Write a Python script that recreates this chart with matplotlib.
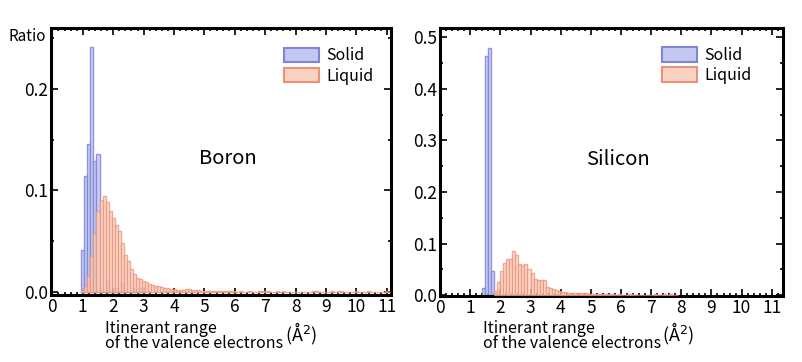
import numpy as np
import matplotlib
matplotlib.use('Agg')
import matplotlib.pyplot as plt
import matplotlib.ticker as ticker
from matplotlib.patches import Patch

plt.rcParams['font.family'] = ['Noto Sans CJK JP', 'DejaVu Sans']

# bin width 0.1, lists start at the given bin centre
boron_solid_start = 1.0
boron_solid = [0.041, 0.114, 0.146, 0.241, 0.129, 0.136, 0.0, 0.0, 0.012, 0.0,
               0.0, 0.004, 0.0, 0.009, 0.0, 0.0, 0.0, 0.004, 0.0, 0.004, 0.004]

boron_liquid_start = 1.0
boron_liquid = [0.002, 0.006, 0.015, 0.035, 0.058, 0.080, 0.090, 0.094, 0.089, 0.080,
                0.073, 0.066, 0.060, 0.048, 0.036, 0.030, 0.022, 0.017, 0.014, 0.013,
                0.011, 0.010, 0.008, 0.007, 0.006, 0.006, 0.005, 0.004, 0.004, 0.003,
                0.003, 0.002, 0.002, 0.002, 0.003, 0.003, 0.002, 0.002, 0.002, 0.001,
                0.001, 0.001, 0.001, 0.001, 0.001, 0.001, 0.001, 0.001, 0.001, 0.001,
                0.001, 0.0, 0.001, 0.0, 0.0, 0.001, 0.0, 0.0, 0.001, 0.001,
                0.001, 0.001, 0.0, 0.0, 0.001, 0.0, 0.001, 0.0, 0.0, 0.0,
                0.0, 0.0, 0.0, 0.0, 0.0, 0.0, 0.001, 0.001, 0.0, 0.0,
                0.0, 0.0, 0.001, 0.0, 0.001, 0.001, 0.0, 0.0, 0.0, 0.0,
                0.001, 0.0, 0.0, 0.0, 0.001, 0.0, 0.0, 0.0, 0.0, 0.0,
                0.001, 0.0]

silicon_solid_start = 1.45
silicon_solid = [0.014, 0.464, 0.480, 0.047, 0.004]

silicon_liquid_start = 1.85
silicon_liquid = [0.008, 0.026, 0.046, 0.062, 0.070, 0.070, 0.085, 0.078, 0.060, 0.058,
                  0.060, 0.050, 0.042, 0.032, 0.030, 0.030, 0.029, 0.016, 0.013, 0.011,
                  0.009, 0.007, 0.006, 0.006, 0.005, 0.005, 0.005, 0.005, 0.005, 0.004,
                  0.004, 0.003, 0.003, 0.003, 0.003, 0.002, 0.002, 0.002, 0.002, 0.002,
                  0.001, 0.002, 0.001, 0.001, 0.002, 0.002, 0.001, 0.001, 0.001, 0.001,
                  0.001, 0.001, 0.001, 0.002, 0.001, 0.001, 0.002, 0.001, 0.002, 0.001,
                  0.001]

panels = ['Boron', 'Silicon']
y_ticks = [[0.0, 0.1, 0.2], [0.0, 0.1, 0.2, 0.3, 0.4, 0.5]]
x_ticks = list(range(12))

solid_edge = '#7f86d8'
solid_face = '#c4c8f0'
liq_edge = '#ec9278'
liq_face = '#fad2c2'

fig = plt.figure(figsize=(8.03, 3.62), dpi=100)
ax1 = fig.add_axes([0.063, 0.185, 0.424, 0.737])
ax2 = fig.add_axes([0.548, 0.182, 0.427, 0.742])

data = [(boron_solid_start, boron_solid, boron_liquid_start, boron_liquid),
        (silicon_solid_start, silicon_solid, silicon_liquid_start, silicon_liquid)]


def centres(start, vals):
    return np.round(start + 0.1 * np.arange(len(vals)), 3)


for ax, name, d, yt in zip([ax1, ax2], panels, data, y_ticks):
    s0, s, l0, l = d
    ax.bar(centres(s0, s), s, width=0.1, facecolor=solid_face, edgecolor=solid_edge,
           linewidth=1.0, alpha=0.85, zorder=2)
    ax.bar(centres(l0, l), l, width=0.1, facecolor=liq_face, edgecolor=liq_edge,
           linewidth=1.0, alpha=0.75, zorder=3)
    ax.set_xticks(x_ticks)
    ax.set_yticks(yt)
    ax.xaxis.set_minor_locator(ticker.MultipleLocator(0.2))
    ax.yaxis.set_minor_locator(ticker.MultipleLocator(0.05))
    ax.yaxis.set_major_formatter(ticker.FormatStrFormatter('%.1f'))
    ax.tick_params(which='both', direction='in', top=True, right=True, labelsize=12.5,
                   width=1.2, pad=2)
    ax.tick_params(which='major', length=5)
    ax.tick_params(which='minor', length=2.5)
    for sp in ax.spines.values():
        sp.set_linewidth(2.2)
    ax.text(0.52, 0.51, name, transform=ax.transAxes, fontsize=14.5,
            ha='center', va='center')
    handles = [Patch(facecolor=solid_face, edgecolor=solid_edge, linewidth=1.5, label='Solid'),
               Patch(facecolor=liq_face, edgecolor=liq_edge, linewidth=1.5, label='Liquid')]
    ax.legend(handles=handles, loc='upper left', frameon=False, fontsize=11.5,
              handlelength=2.2, handleheight=1.0, handletextpad=0.45, labelspacing=0.2,
              borderaxespad=0.0, borderpad=0.0,
              bbox_to_anchor=(0.686 if name == 'Boron' else 0.647, 0.928))

ax1.set_xlim(-0.06, 11.14)
ax1.set_ylim(-0.0033, 0.26)
ax2.set_xlim(0.0, 11.37)
ax2.set_ylim(-0.002, 0.519)

fig.text(0.01, 0.898, 'Ratio', fontsize=11, ha='left', va='center')

for x0, xu in [(0.131, 0.355), (0.601, 0.825)]:
    fig.text(x0, 0.072, 'Itinerant range\nof the valence electrons', fontsize=11.5,
             ha='left', va='center', linespacing=0.9)
    fig.text(xu, 0.078, '(Å$^2$)', fontsize=13, ha='left', va='center')

fig.savefig('out.png', dpi=100)
